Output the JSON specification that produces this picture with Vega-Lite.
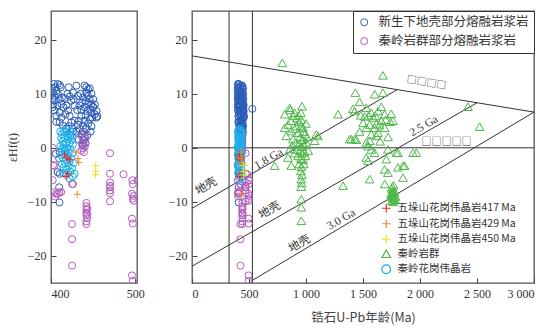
{
  "$schema": "https://vega.github.io/schema/vega-lite/v6.json",
  "background": "white",
  "padding": {"left": 5, "top": 9, "right": 5, "bottom": 5},
  "bounds": "flush",
  "spacing": 55,
  "config": {
    "font": "Liberation Serif, DejaVu Serif, serif",
    "view": {"stroke": "#555", "strokeWidth": 1.3},
    "axis": {"labelFont": "Liberation Serif, DejaVu Serif, serif", "labelFontSize": 12, "labelColor": "#333", "grid": false, "domain": false, "tickColor": "#444", "tickSize": -5, "labelPadding": 10, "titleColor": "#333", "titleFontWeight": "normal"}
  },
  "resolve": {"scale": {"color": "independent", "shape": "independent", "size": "independent", "x": "independent", "y": "independent"}},
  "datasets": {
    "pts": [
      {"g":"A","a":403.5,"e":11.8},{"g":"A","a":408,"e":11.8},{"g":"A","a":410.5,"e":11.6},{"g":"A","a":401.2,"e":11.0},{"g":"A","a":405,"e":11.2},{"g":"A","a":411.5,"e":11.2},{"g":"A","a":402.4,"e":10.2},{"g":"A","a":406.5,"e":10.5},{"g":"A","a":404,"e":9.6},{"g":"A","a":408.3,"e":9.9},{"g":"A","a":401.5,"e":9.0},{"g":"A","a":404.3,"e":8.8},{"g":"A","a":410.3,"e":9.0},{"g":"A","a":413,"e":9.3},{"g":"A","a":402.4,"e":8.0},{"g":"A","a":407.5,"e":7.8},{"g":"A","a":412.3,"e":8.1},{"g":"A","a":404.3,"e":6.9},{"g":"A","a":410.3,"e":6.5},{"g":"A","a":415,"e":7.5},{"g":"A","a":406.3,"e":5.9},{"g":"A","a":412.3,"e":5.6},{"g":"A","a":416.2,"e":9.2},{"g":"A","a":418.2,"e":7.8},{"g":"A","a":417,"e":6.2},{"g":"A","a":414.2,"e":4.1},{"g":"A","a":410.3,"e":4.7},{"g":"A","a":418.2,"e":3.6},{"g":"A","a":406.3,"e":4.8},{"g":"A","a":402,"e":7.5},
      {"g":"A","a":421,"e":11.2},{"g":"A","a":420.2,"e":6.9},{"g":"A","a":422.1,"e":5.9},{"g":"A","a":424.1,"e":8.7},{"g":"A","a":426.1,"e":10.2},{"g":"A","a":428.1,"e":7.8},{"g":"A","a":424.1,"e":4.7},{"g":"A","a":422.5,"e":9.5},{"g":"A","a":427,"e":9.0},{"g":"A","a":425,"e":3.5},{"g":"A","a":419.5,"e":10.0},{"g":"A","a":423,"e":2.3},{"g":"A","a":428,"e":5.0},{"g":"A","a":426,"e":3.0},{"g":"A","a":421,"e":4.0},
      {"g":"A","a":430.1,"e":11.5},{"g":"A","a":432,"e":9.6},{"g":"A","a":434,"e":7.8},{"g":"A","a":436,"e":5.9},{"g":"A","a":438,"e":4.1},{"g":"A","a":439.9,"e":11.5},{"g":"A","a":441.9,"e":11.2},{"g":"A","a":443.9,"e":9.6},{"g":"A","a":445.9,"e":9.0},{"g":"A","a":441,"e":8.7},{"g":"A","a":447.8,"e":8.1},{"g":"A","a":449.8,"e":7.6},{"g":"A","a":451.8,"e":6.2},{"g":"A","a":453.8,"e":5.6},{"g":"A","a":447.8,"e":6.5},{"g":"A","a":445.9,"e":7.2},{"g":"A","a":443,"e":6.8},{"g":"A","a":441,"e":6.0},{"g":"A","a":439.9,"e":5.0},{"g":"A","a":438,"e":3.0},{"g":"A","a":436,"e":2.5},{"g":"A","a":440,"e":2.0},{"g":"A","a":442,"e":3.6},{"g":"A","a":444,"e":4.5},{"g":"A","a":446,"e":5.3},{"g":"A","a":448,"e":4.0},{"g":"A","a":437,"e":8.4},{"g":"A","a":435,"e":10.0},{"g":"A","a":433,"e":5.0},{"g":"A","a":431,"e":7.0},{"g":"A","a":438,"e":9.3},{"g":"A","a":440,"e":7.5},{"g":"A","a":442,"e":10.2},{"g":"A","a":444,"e":10.8},{"g":"A","a":446,"e":11.0},{"g":"A","a":448,"e":10.0},{"g":"A","a":450,"e":9.0},{"g":"A","a":450,"e":7.5},{"g":"A","a":452,"e":8.0},{"g":"A","a":454,"e":6.8},{"g":"A","a":455,"e":5.8},{"g":"A","a":447,"e":3.0},{"g":"A","a":449,"e":5.6},{"g":"A","a":444,"e":8.1},{"g":"A","a":436,"e":7.0},{"g":"A","a":434,"e":3.5},{"g":"A","a":432,"e":4.3},{"g":"A","a":430,"e":3.0},{"g":"A","a":433,"e":1.5},{"g":"A","a":437,"e":0.8},{"g":"A","a":439,"e":1.4},{"g":"A","a":443,"e":2.3},
      {"g":"A","a":405.8,"e":-1.1},{"g":"A","a":409.7,"e":-2.0},{"g":"A","a":407.8,"e":-4.5},{"g":"A","a":409.7,"e":-7.3},{"g":"A","a":410,"e":-10.1},{"g":"A","a":410.3,"e":-0.8},{"g":"A","a":410.3,"e":-4.8},{"g":"A","a":438,"e":0.4},{"g":"A","a":441,"e":0.9},{"g":"A","a":529,"e":7.2},
      {"g":"B","a":402,"e":0},{"g":"B","a":402.4,"e":-3.2},{"g":"B","a":404,"e":-3.3},{"g":"B","a":402,"e":-6},{"g":"B","a":404,"e":-8.2},{"g":"B","a":406,"e":-8.5},{"g":"B","a":408,"e":-8.5},{"g":"B","a":410,"e":-8.2},{"g":"B","a":412,"e":-8.2},{"g":"B","a":405,"e":-9.0},
      {"g":"B","a":425,"e":-6.7},{"g":"B","a":426,"e":-6.7},{"g":"B","a":425,"e":-14.1},{"g":"B","a":425,"e":-16.9},{"g":"B","a":425,"e":-21.8},
      {"g":"B","a":437,"e":2.0},{"g":"B","a":438,"e":1.3},{"g":"B","a":437,"e":0.6},{"g":"B","a":438,"e":-0.1},{"g":"B","a":439,"e":-0.8},{"g":"B","a":440,"e":2.9},{"g":"B","a":441,"e":1.6},{"g":"B","a":440,"e":0.2},{"g":"B","a":436,"e":-0.5},
      {"g":"B","a":442,"e":-10.2},{"g":"B","a":442,"e":-10.8},{"g":"B","a":442,"e":-11.5},{"g":"B","a":442,"e":-12.0},{"g":"B","a":442,"e":-12.5},{"g":"B","a":443,"e":-13.0},{"g":"B","a":442,"e":-13.6},{"g":"B","a":442,"e":-14.1},{"g":"B","a":443,"e":-11.2},{"g":"B","a":443,"e":-12.2},
      {"g":"B","a":470,"e":-1},{"g":"B","a":470,"e":-4.8},{"g":"B","a":470,"e":-6.4},{"g":"B","a":470,"e":-7.0},{"g":"B","a":470,"e":-7.3},{"g":"B","a":470,"e":-7.9},{"g":"B","a":470,"e":-8.4},{"g":"B","a":470,"e":-9.9},{"g":"B","a":486,"e":-4.9},
      {"g":"B","a":496.5,"e":-6},{"g":"B","a":497,"e":-6.7},{"g":"B","a":503,"e":-6.0},{"g":"B","a":496,"e":-8.5},{"g":"B","a":497,"e":-9.4},{"g":"B","a":498,"e":-9.8},{"g":"B","a":496,"e":-13.1},{"g":"B","a":497,"e":-14},{"g":"B","a":496,"e":-23.6},{"g":"B","a":497,"e":-24.6},{"g":"B","a":498,"e":-8.9},
      {"g":"C","a":411,"e":3.0},{"g":"C","a":413,"e":2.5},{"g":"C","a":415,"e":3.2},{"g":"C","a":417,"e":2.8},{"g":"C","a":419,"e":3.3},{"g":"C","a":421,"e":2.6},{"g":"C","a":423,"e":3.0},{"g":"C","a":425,"e":2.2},{"g":"C","a":412,"e":1.8},{"g":"C","a":414,"e":1.2},{"g":"C","a":416,"e":1.9},{"g":"C","a":418,"e":1.0},{"g":"C","a":420,"e":1.6},{"g":"C","a":422,"e":0.8},{"g":"C","a":424,"e":1.4},{"g":"C","a":426,"e":0.6},{"g":"C","a":411,"e":0.3},{"g":"C","a":413,"e":-0.2},{"g":"C","a":415,"e":0.5},{"g":"C","a":417,"e":-0.5},{"g":"C","a":419,"e":0.0},{"g":"C","a":421,"e":-0.8},{"g":"C","a":423,"e":-0.2},{"g":"C","a":425,"e":-1.0},{"g":"C","a":412,"e":-1.3},{"g":"C","a":414,"e":-1.8},{"g":"C","a":416,"e":-1.1},{"g":"C","a":418,"e":-2.2},{"g":"C","a":420,"e":-1.6},{"g":"C","a":422,"e":-2.5},{"g":"C","a":424,"e":-1.9},{"g":"C","a":427,"e":-2.8},{"g":"C","a":413,"e":-3.0},{"g":"C","a":415,"e":-3.6},{"g":"C","a":417,"e":-2.9},{"g":"C","a":419,"e":-4.0},{"g":"C","a":421,"e":-3.4},{"g":"C","a":423,"e":-4.4},{"g":"C","a":425,"e":-3.8},{"g":"C","a":428,"e":-4.8},{"g":"C","a":418,"e":-5.0},{"g":"C","a":422,"e":-5.7},{"g":"C","a":426,"e":-5.3},{"g":"C","a":414,"e":-4.6},{"g":"C","a":420,"e":2.2},{"g":"C","a":416,"e":-0.3},
      {"g":"D","a":792,"e":15.7},{"g":"D","a":1675,"e":13.4},{"g":"D","a":1433,"e":10.2},{"g":"D","a":1602,"e":9.9},{"g":"D","a":1675,"e":10.2},{"g":"D","a":1471,"e":8.5},{"g":"D","a":2421,"e":7.6},{"g":"D","a":2523,"e":3.9},{"g":"D","a":1412,"e":7.2},{"g":"D","a":1427,"e":6.8},{"g":"D","a":1529,"e":7.4},{"g":"D","a":1573,"e":6.5},{"g":"D","a":1632,"e":6.8},{"g":"D","a":1690,"e":6.2},{"g":"D","a":1748,"e":6.3},{"g":"D","a":1763,"e":5.0},{"g":"D","a":1661,"e":5.0},{"g":"D","a":1500,"e":4.6},{"g":"D","a":1559,"e":4.3},{"g":"D","a":1602,"e":3.7},{"g":"D","a":1529,"e":3.7},{"g":"D","a":1690,"e":3.7},{"g":"D","a":1632,"e":2.8},{"g":"D","a":1573,"e":2.5},{"g":"D","a":1559,"e":1.3},{"g":"D","a":1398,"e":1.6},{"g":"D","a":1442,"e":1.5},{"g":"D","a":1573,"e":-0.3},{"g":"D","a":1602,"e":-0.9},{"g":"D","a":1719,"e":-0.3},{"g":"D","a":1807,"e":-0.9},{"g":"D","a":1281,"e":6.2},{"g":"D","a":1091,"e":2.5},{"g":"D","a":1105,"e":2.2},{"g":"D","a":1076,"e":1.3},{"g":"D","a":1544,"e":0.3},{"g":"D","a":1529,"e":-1.8},{"g":"D","a":1705,"e":-2.1},{"g":"D","a":1792,"e":-0.9},{"g":"D","a":1807,"e":-3.6},{"g":"D","a":1719,"e":-4.6},{"g":"D","a":1851,"e":-3.3},{"g":"D","a":1939,"e":-0.9},{"g":"D","a":1968,"e":-0.9},{"g":"D","a":1851,"e":-5.5},{"g":"D","a":1690,"e":-6.7},{"g":"D","a":1690,"e":-4.0},{"g":"D","a":1544,"e":-2.4},{"g":"D","a":1559,"e":-5.8},{"g":"D","a":1325,"e":-7.0},{"g":"D","a":1865,"e":-3.3},{"g":"D","a":1617,"e":2.2},{"g":"D","a":1383,"e":1.6},{"g":"D","a":1427,"e":1.6},{"g":"D","a":1529,"e":1.0},{"g":"D","a":1645,"e":4.2},{"g":"D","a":1590,"e":5.6},{"g":"D","a":1515,"e":5.8},{"g":"D","a":1720,"e":2.0},{"g":"D","a":725,"e":-3.3},{"g":"D","a":813,"e":3.7},{"g":"D","a":1480,"e":6.0},{"g":"D","a":1610,"e":5.9},{"g":"D","a":1660,"e":7.6},{"g":"D","a":1700,"e":5.2},{"g":"D","a":1550,"e":6.0},{"g":"D","a":1620,"e":4.5},{"g":"D","a":1470,"e":3.0},{"g":"D","a":1650,"e":1.2},{"g":"D","a":1740,"e":4.8},
      {"g":"D","a":1750,"e":-7.5},{"g":"D","a":1760,"e":-7.8},{"g":"D","a":1770,"e":-8.0},{"g":"D","a":1755,"e":-8.3},{"g":"D","a":1765,"e":-8.6},{"g":"D","a":1775,"e":-8.8},{"g":"D","a":1750,"e":-9.0},{"g":"D","a":1760,"e":-9.2},{"g":"D","a":1770,"e":-9.4},{"g":"D","a":1780,"e":-9.6},{"g":"D","a":1755,"e":-9.8},{"g":"D","a":1765,"e":-10.0},{"g":"D","a":1775,"e":-8.2},{"g":"D","a":1785,"e":-9.0},{"g":"D","a":1745,"e":-8.6},{"g":"D","a":1760,"e":-7.2},{"g":"D","a":1768,"e":-6.9},
      {"g":"D","a":857,"e":7.4},{"g":"D","a":965,"e":7.7},{"g":"D","a":862,"e":7.0},{"g":"D","a":813,"e":6.2},{"g":"D","a":886,"e":5.9},{"g":"D","a":842,"e":4.3},{"g":"D","a":959,"e":5.2},{"g":"D","a":974,"e":3.7},{"g":"D","a":871,"e":3.1},{"g":"D","a":827,"e":2.2},{"g":"D","a":886,"e":1.6},{"g":"D","a":900,"e":6.5},{"g":"D","a":920,"e":5.5},{"g":"D","a":940,"e":4.8},{"g":"D","a":960,"e":4.0},{"g":"D","a":980,"e":3.0},{"g":"D","a":900,"e":3.5},{"g":"D","a":930,"e":2.8},{"g":"D","a":950,"e":2.0},{"g":"D","a":970,"e":1.5},{"g":"D","a":990,"e":2.5},{"g":"D","a":910,"e":1.0},{"g":"D","a":940,"e":0.8},{"g":"D","a":960,"e":0.2},{"g":"D","a":980,"e":0.5},{"g":"D","a":1000,"e":1.0},{"g":"D","a":920,"e":-0.3},{"g":"D","a":945,"e":-0.5},{"g":"D","a":965,"e":-1.0},{"g":"D","a":985,"e":-0.8},{"g":"D","a":900,"e":-1.0},{"g":"D","a":930,"e":-1.5},{"g":"D","a":955,"e":-2.0},{"g":"D","a":975,"e":-2.2},{"g":"D","a":995,"e":-1.5},{"g":"D","a":940,"e":-3.0},{"g":"D","a":960,"e":-3.5},{"g":"D","a":980,"e":-3.0},{"g":"D","a":955,"e":-4.3},{"g":"D","a":965,"e":-5.0},{"g":"D","a":958,"e":-5.8},{"g":"D","a":962,"e":-6.5},{"g":"D","a":958,"e":-7.2},{"g":"D","a":842,"e":-1.8},{"g":"D","a":871,"e":-3.3},{"g":"D","a":959,"e":-9.5},{"g":"D","a":959,"e":-11.0},{"g":"D","a":959,"e":-13.5},{"g":"D","a":880,"e":0.5},{"g":"D","a":860,"e":-0.2},{"g":"D","a":1020,"e":-0.5},{"g":"D","a":1010,"e":2.0},{"g":"D","a":935,"e":6.0},{"g":"D","a":955,"e":6.5},{"g":"D","a":915,"e":4.0},{"g":"D","a":1000,"e":4.5},{"g":"D","a":870,"e":5.0},
      {"g":"E","a":416,"e":-1.3},{"g":"E","a":419,"e":-1.9},{"g":"E","a":422,"e":-2.2},{"g":"E","a":420,"e":-4.8},{"g":"E","a":418,"e":-5.3},
      {"g":"F","a":430,"e":-0.8},{"g":"F","a":432,"e":-2.0},{"g":"F","a":433,"e":-2.7},{"g":"F","a":431,"e":-8.6},
      {"g":"G","a":453,"e":-3.3},{"g":"G","a":453,"e":-4.4},{"g":"G","a":453,"e":-5.0}
    ],
    "lines": [
      {"a":325,"e":-25,"a2":325,"e2":25.3},
      {"a":530,"e":-25,"a2":530,"e2":25.3},
      {"a":0,"e":0,"a2":3000,"e2":0},
      {"a":0,"e":17,"a2":3000,"e2":6.6},
      {"a":0,"e":-11.2,"a2":1800,"e2":10.76},
      {"a":0,"e":-21.9,"a2":2500,"e2":8.33},
      {"a":515,"e":-24.7,"a2":3000,"e2":6.6}
    ],
    "galabels": [
      {"a":674,"e":-2.1,"t":"1.8 Ga"},
      {"a":2035,"e":4.0,"t":"2.5 Ga"},
      {"a":1310,"e":-13.3,"t":"3.0 Ga"}
    ],
    "crust": [
      {"a":126,"e":-7.2,"t":"地壳"},
      {"a":681,"e":-11.6,"t":"地壳"},
      {"a":945,"e":-17.8,"t":"地壳"}
    ],
    "dm": [{"a":2057,"e":12.0,"t":"□□□□"}],
    "chur": [{"a":2233,"e":1.15,"t":"□□□□□"}]
  },
  "hconcat": [
    {
      "width": 86,
      "height": 272,
      "data": {"name": "pts"},
      "mark": {"type": "point", "filled": false, "strokeWidth": 1, "opacity": 1, "clip": true},
      "encoding": {
        "x": {"field": "a", "type": "quantitative", "scale": {"domain": [400, 502], "nice": false, "zero": false}, "axis": {"values": [400, 500], "title": null}},
        "y": {"field": "e", "type": "quantitative", "scale": {"domain": [-25, 25.3], "nice": false, "zero": false}, "axis": {"values": [-20, -10, 0, 10, 20], "title": "εHf(t)", "titleFont": "Liberation Serif, DejaVu Serif, serif", "titleFontSize": 12, "titlePadding": 8}},
        "color": {"field": "g", "type": "nominal", "scale": {"domain": ["A","B","C","D","E","F","G"], "range": ["#2a5cb8","#b45cbc","#1ab0e8","#4cb848","#e8282a","#f08a30","#f0e020"]}, "legend": null},
        "shape": {"field": "g", "type": "nominal", "scale": {"domain": ["A","B","C","D","E","F","G"], "range": ["circle","circle","circle","triangle-up","M-1,0H1M0,-1V1","M-1,0H1M0,-1V1","M-1,0H1M0,-1V1"]}, "legend": null},
        "size": {"field": "g", "type": "nominal", "scale": {"domain": ["A","B","C","D","E","F","G"], "range": [50,50,50,85,75,75,75]}, "legend": null}
      }
    },
    {
      "width": 342,
      "height": 272,
      "encoding": {
        "x": {"field": "a", "type": "quantitative", "scale": {"domain": [0, 3000], "nice": false, "zero": false}, "axis": {"values": [0, 500, 1000, 1500, 2000, 2500, 3000], "labelExpr": "replace(format(datum.value, ','), ',', ' ')", "title": "锆石U-Pb年龄(Ma)", "titleFont": "Noto Sans CJK SC", "titleFontSize": 12.5, "titleColor": "#444", "titlePadding": 12}},
        "y": {"field": "e", "type": "quantitative", "scale": {"domain": [-25, 25.3], "nice": false, "zero": false}, "axis": {"values": [-20, -10, 0, 10, 20], "title": null}}
      },
      "layer": [
        {
          "data": {"name": "lines"},
          "mark": {"type": "rule", "color": "#333", "strokeWidth": 1, "clip": true},
          "encoding": {"x2": {"field": "a2"}, "y2": {"field": "e2"}}
        },
        {
          "data": {"name": "pts"},
          "transform": [{"filter": {"field": "g", "oneOf": ["A", "B"]}}],
          "mark": {"type": "point", "filled": false, "strokeWidth": 1, "opacity": 1, "size": 50, "clip": true},
          "encoding": {
            "color": {"field": "g", "type": "nominal", "scale": {"domain": ["A","B"], "range": ["#2a5cb8","#b45cbc"]},
              "legend": {"orient": "top-right", "offset": 0, "title": null, "strokeColor": "#333", "fillColor": "white", "padding": 5, "labelFont": "Noto Sans CJK SC", "labelFontSize": 12.5, "labelLimit": 400, "labelColor": "#333", "symbolSize": 50, "symbolStrokeWidth": 1, "rowPadding": 5.8, "labelOffset": 8,
                "labelExpr": "datum.label == 'A' ? '新生下地壳部分熔融岩浆岩' : '秦岭岩群部分熔融岩浆岩'"}}
          }
        },
        {
          "data": {"name": "pts"},
          "transform": [{"filter": {"field": "g", "oneOf": ["C", "D", "E", "F", "G"]}}],
          "mark": {"type": "point", "filled": false, "strokeWidth": 1, "opacity": 1, "clip": true},
          "encoding": {
            "color": {"field": "g", "type": "nominal", "scale": {"domain": ["E","F","G","D","C"], "range": ["#e8282a","#f08a30","#f0e020","#4cb848","#1ab0e8"]},
              "legend": {"orient": "none", "legendX": 189, "legendY": 192, "title": null, "padding": 0, "labelFont": "Noto Sans CJK SC", "labelFontSize": 10.5, "labelLimit": 400, "labelColor": "#333", "symbolSize": 70, "symbolStrokeWidth": 1.2, "rowPadding": 1.5, "labelOffset": 6,
                "labelExpr": "datum.label == 'E' ? '五垛山花岗伟晶岩417 Ma' : datum.label == 'F' ? '五垛山花岗伟晶岩429 Ma' : datum.label == 'G' ? '五垛山花岗伟晶岩450 Ma' : datum.label == 'D' ? '秦岭岩群' : '秦岭花岗伟晶岩'"}},
            "shape": {"field": "g", "type": "nominal", "scale": {"domain": ["E","F","G","D","C"], "range": ["M-1,0H1M0,-1V1","M-1,0H1M0,-1V1","M-1,0H1M0,-1V1","triangle-up","circle"]},
              "legend": {"orient": "none", "legendX": 189, "legendY": 192, "title": null, "padding": 0, "labelFont": "Noto Sans CJK SC", "labelFontSize": 10.5, "labelLimit": 400, "labelColor": "#333", "symbolSize": 70, "symbolStrokeWidth": 1.2, "rowPadding": 1.5, "labelOffset": 6,
                "labelExpr": "datum.label == 'E' ? '五垛山花岗伟晶岩417 Ma' : datum.label == 'F' ? '五垛山花岗伟晶岩429 Ma' : datum.label == 'G' ? '五垛山花岗伟晶岩450 Ma' : datum.label == 'D' ? '秦岭岩群' : '秦岭花岗伟晶岩'"}},
            "size": {"field": "g", "type": "nominal", "scale": {"domain": ["E","F","G","D","C"], "range": [75,75,75,85,50]}, "legend": null}
          }
        },
        {
          "data": {"name": "galabels"},
          "mark": {"type": "text", "angle": 330, "font": "Liberation Serif, DejaVu Serif, serif", "fontSize": 11.5, "color": "#333", "baseline": "middle", "align": "center"},
          "encoding": {"text": {"field": "t"}}
        },
        {
          "data": {"name": "crust"},
          "mark": {"type": "text", "angle": 330, "font": "Noto Sans CJK SC", "fontSize": 11.5, "color": "#333", "baseline": "middle", "align": "center"},
          "encoding": {"text": {"field": "t"}}
        },
        {
          "data": {"name": "dm"},
          "mark": {"type": "text", "angle": 9.4, "font": "Noto Sans CJK SC", "fontSize": 10, "color": "#333", "baseline": "middle", "align": "center"},
          "encoding": {"text": {"field": "t"}}
        },
        {
          "data": {"name": "chur"},
          "mark": {"type": "text", "angle": 0, "font": "Noto Sans CJK SC", "fontSize": 10, "color": "#333", "baseline": "middle", "align": "center"},
          "encoding": {"text": {"field": "t"}}
        }
      ],
      "resolve": {"scale": {"color": "independent", "shape": "independent", "size": "independent"}}
    }
  ]
}
